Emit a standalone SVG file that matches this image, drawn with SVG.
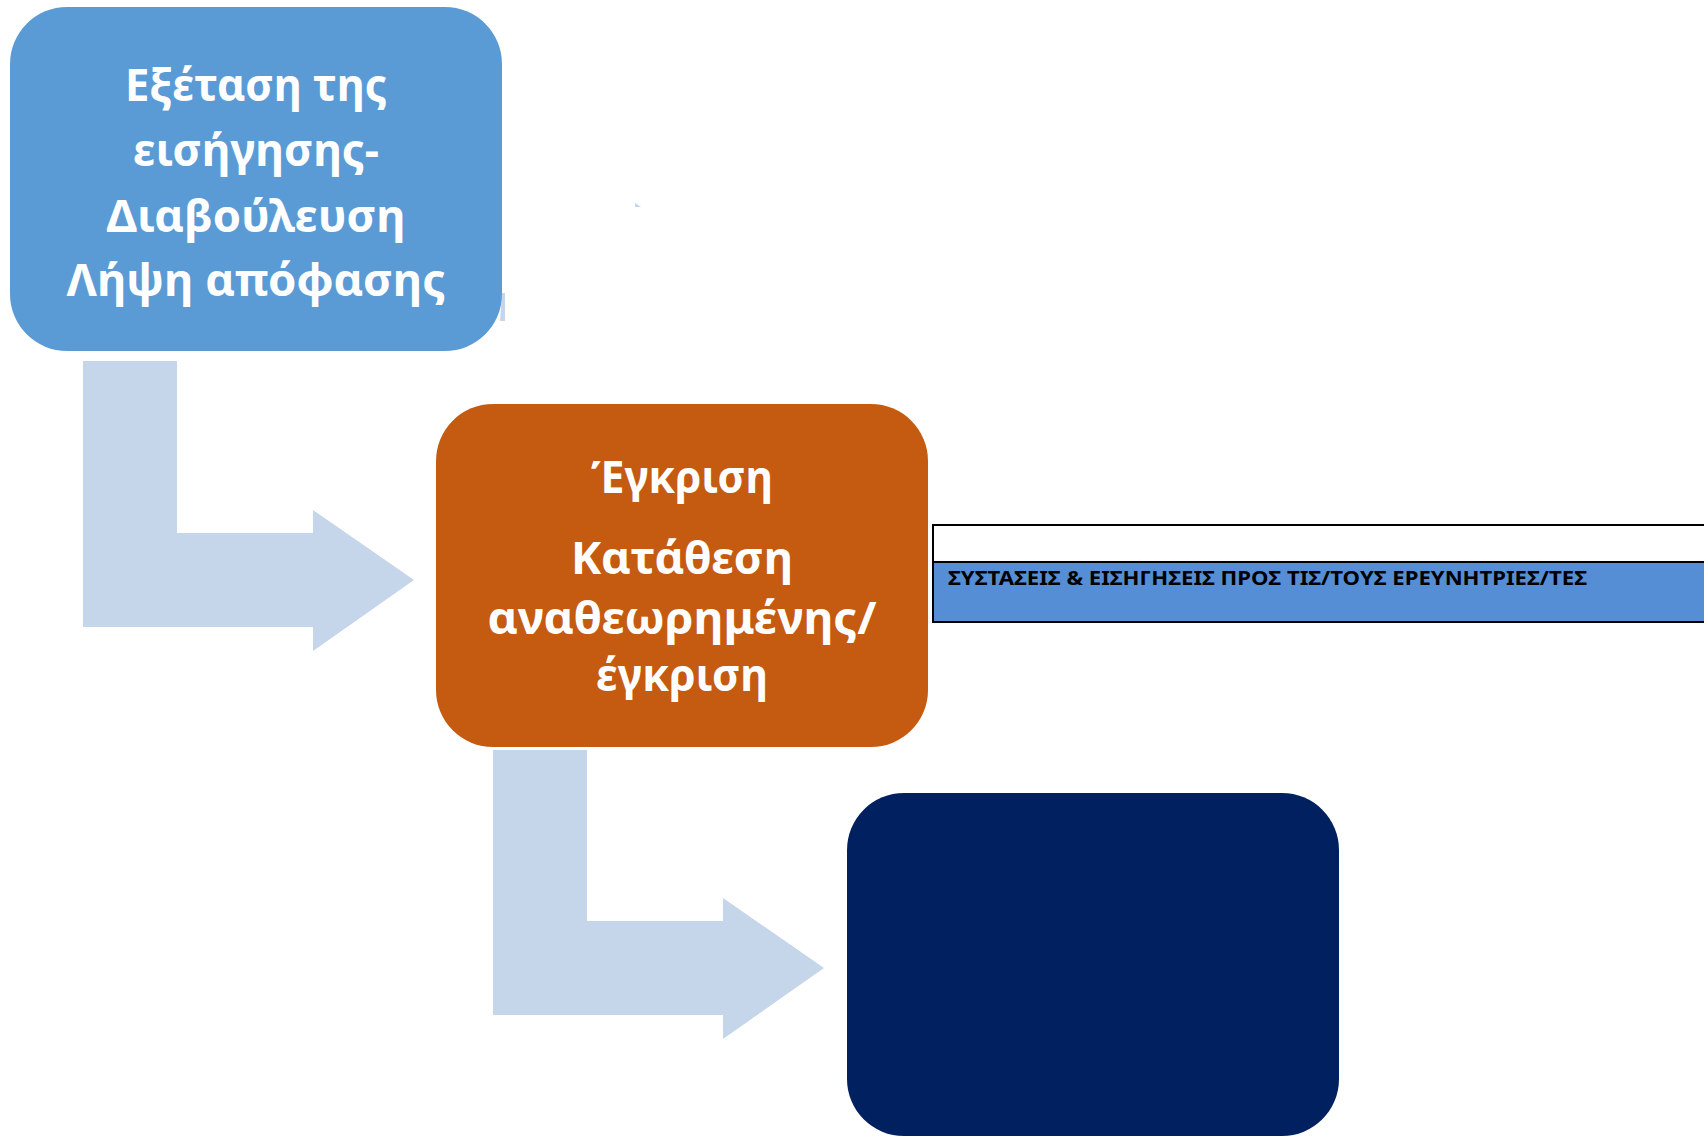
<svg xmlns="http://www.w3.org/2000/svg" width="1704" height="1137" viewBox="0 0 1704 1137">
<style>
.arrow{fill:#C5D5EA}
.box-text{font-family:"Noto Sans","Open Sans","DejaVu Sans",sans-serif;font-weight:bold;font-size:45px;fill:#FFFFFF;text-anchor:middle}
.tbl-text{font-family:"Noto Sans","Liberation Sans",sans-serif;font-weight:bold;font-size:20px;fill:#000000}
</style>
<rect width="1704" height="1137" fill="#FFFFFF"/>
<g id="connectors">
<path class="arrow" d="M83,361 H177 V533 H313 V510 L414,580 L313,651 V627 H83 Z"/>
<path class="arrow" d="M493,750 H587 V921 H723 V898 L824,968 L723,1039 V1015 H493 Z"/>
<path class="arrow" d="M502,293 L505,293 L505,321 L500,321 Z"/>
<path class="arrow" d="M635,203 L641,207 L635,207 Z"/>
</g>
<g id="node-review">
<rect x="10" y="7" width="492" height="344" rx="57" ry="57" fill="#5B9BD5"/>
<text class="box-text" x="256" y="101" textLength="262" lengthAdjust="spacingAndGlyphs">Εξέταση της</text>
<text class="box-text" x="256" y="166" textLength="246" lengthAdjust="spacingAndGlyphs">εισήγησης-</text>
<text class="box-text" x="256" y="232" textLength="299" lengthAdjust="spacingAndGlyphs">Διαβούλευση</text>
<text class="box-text" x="256" y="296" textLength="379" lengthAdjust="spacingAndGlyphs">Λήψη απόφασης</text>
</g>
<g id="node-approval">
<rect x="436" y="404" width="492" height="343" rx="57" ry="57" fill="#C55A11"/>
<text class="box-text" x="682" y="493" textLength="182" lengthAdjust="spacingAndGlyphs">Έγκριση</text>
<text class="box-text" x="682" y="574" textLength="222" lengthAdjust="spacingAndGlyphs">Κατάθεση</text>
<text class="box-text" x="682" y="634" textLength="389" lengthAdjust="spacingAndGlyphs">αναθεωρημένης/</text>
<text class="box-text" x="682" y="691" textLength="172" lengthAdjust="spacingAndGlyphs">έγκριση</text>
</g>
<g id="node-final">
<rect x="847" y="793" width="492" height="343" rx="57" ry="57" fill="#002060"/>
</g>
<g id="table">
<rect x="933" y="525" width="780" height="37" fill="#FFFFFF" stroke="#000000" stroke-width="2"/>
<rect x="933" y="562" width="780" height="60" fill="#558ED5" stroke="#000000" stroke-width="2"/>
<text class="tbl-text" x="948" y="585" textLength="639" lengthAdjust="spacingAndGlyphs">ΣΥΣΤΑΣΕΙΣ &amp; ΕΙΣΗΓΗΣΕΙΣ ΠΡΟΣ ΤΙΣ/ΤΟΥΣ ΕΡΕΥΝΗΤΡΙΕΣ/ΤΕΣ</text>
</g>
</svg>
